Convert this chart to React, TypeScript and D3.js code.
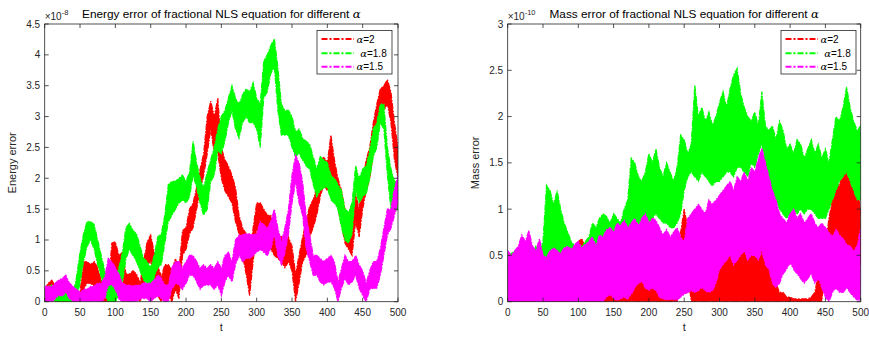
import React from "react";
import * as d3 from "d3";

// time samples (t = 0..500, every 5)
const tSamples: number[] = d3.range(0, 505, 5);

// ---------- Energy error (x1e-8): lower / upper envelopes ----------
const energyA2Lo = [0.0,0.05,0.05,0.0,0.0,0.0,0.0,0.0,0.0,0.0, 0.0,0.2,0.3,0.3,0.25,0.15,0.0,0.0,0.0,0.5, 0.55,0.35,0.45,0.05,0.1,0.1,0.1,0.0,0.2,0.6, 0.65,0.35,0.1,0.0,0.2,0.1,0.0,0.2,0.05,0.75, 0.85,1.1,1.2,1.5,1.8,2.05,2.4,2.8,2.4,2.4, 2.0,1.8,1.7,1.6,1.3,1.1,0.75,0.45,0.1,0.65, 1.15,1.2,1.0,0.95,0.85,0.75,0.7,0.65,0.55,0.65, 0.5,0.0,0.3,0.65,0.75,1.05,1.2,1.4,1.7,1.9, 1.8,2.0,1.75,1.5,1.25,0.95,0.85,0.75,1.3,1.05, 1.5,1.8,2.0,2.4,2.75,3.0,3.1,3.2,2.9,2.3, 2.0];
const energyA2Hi = [0.2,0.3,0.35,0.25,0.2,0.15,0.1,0.1,0.1,0.1, 0.15,0.65,0.65,0.6,0.65,0.55,0.35,0.3,0.2,0.95, 0.97,0.75,0.8,0.45,0.45,0.5,0.45,0.3,0.65,0.97, 1.08,0.8,0.6,0.4,0.6,0.6,0.5,0.7,0.5,1.15, 1.2,1.5,1.6,1.85,2.15,2.4,3.0,3.25,3.0,3.3, 2.5,2.3,2.2,2.05,1.85,1.4,1.2,1.1,0.65,1.2, 1.6,1.6,1.5,1.4,1.4,1.2,1.1,1.05,0.95,1.05, 0.9,0.45,0.75,1.05,1.3,1.55,1.65,1.85,2.25,2.35, 2.25,2.7,2.3,2.0,1.8,1.5,1.3,1.1,1.75,1.5, 1.95,2.3,2.5,2.9,3.2,3.45,3.5,3.6,3.4,2.9, 2.5];
const energyA18Lo = [0.0,0.0,0.05,0.0,0.0,0.0,0.0,0.0,0.0,0.05, 0.3,0.65,0.9,1.0,0.85,0.6,0.4,0.1,0.0,0.0, 0.0,0.1,0.3,0.7,0.85,0.75,0.65,0.5,0.35,0.3, 0.2,0.4,0.55,0.6,0.95,1.3,1.4,1.5,1.6,1.65, 1.6,1.7,2.05,1.85,1.6,1.4,1.5,1.95,2.05,2.45, 2.4,2.6,2.9,3.1,2.8,2.65,2.9,3.0,2.9,2.9, 2.8,2.5,3.3,3.4,3.7,3.8,3.1,2.7,2.7,2.7, 2.5,2.35,2.4,2.3,2.2,2.15,1.9,1.7,1.8,1.85, 1.85,1.65,1.6,1.5,1.2,1.0,0.95,1.1,1.8,1.6, 1.7,1.75,2.0,2.35,2.5,2.9,2.8,2.05,1.5,1.45, 1.5];
const energyA18Hi = [0.2,0.25,0.27,0.2,0.2,0.15,0.2,0.15,0.1,0.4, 0.8,1.1,1.3,1.3,1.25,1.0,0.75,0.5,0.3,0.35, 0.38,0.55,0.8,1.2,1.27,1.15,1.1,0.9,0.7,0.65, 0.55,0.75,1.05,1.1,1.4,1.9,1.95,1.95,2.0,2.05, 1.95,2.1,2.6,2.25,2.0,1.85,2.1,2.3,2.5,2.8, 3.0,3.1,3.3,3.5,3.3,3.2,3.35,3.45,3.4,3.55, 3.3,3.2,3.9,4.0,4.15,4.26,3.8,3.2,3.1,3.1, 3.0,2.75,2.8,2.65,2.6,2.55,2.35,2.15,2.35,2.3, 2.25,2.05,2.0,1.9,1.8,1.5,1.45,1.6,2.2,2.0, 2.15,2.2,2.45,2.8,2.9,3.2,3.2,2.5,2.15,1.95, 1.95];
const energyA15Lo = [0.0,0.0,0.0,0.05,0.1,0.1,0.15,0.05,0.0,0.0, 0.0,0.0,0.0,0.0,0.0,0.0,0.0,0.05,0.27,0.27, 0.2,0.05,0.0,0.0,0.0,0.0,0.0,0.05,0.05,0.05, 0.0,0.05,0.1,0.05,0.0,0.0,0.2,0.3,0.27,0.2, 0.3,0.43,0.43,0.32,0.2,0.27,0.27,0.27,0.2,0.27, 0.1,0.32,0.43,0.32,0.6,0.75,0.65,0.7,0.7,0.75, 0.8,0.85,0.8,0.75,0.86,1.08,0.75,0.6,0.8,1.1, 1.6,1.94,1.6,1.4,0.86,0.65,0.43,0.43,0.32,0.27, 0.32,0.32,0.22,0.0,0.22,0.38,0.27,0.32,0.43,0.22, 0.1,0.0,0.2,0.22,0.22,0.43,0.75,1.08,1.19,1.4, 1.6];
const energyA15Hi = [0.25,0.25,0.25,0.3,0.35,0.38,0.43,0.3,0.25,0.2, 0.15,0.2,0.2,0.25,0.25,0.3,0.3,0.4,0.7,0.65, 0.55,0.45,0.3,0.27,0.27,0.25,0.27,0.27,0.3,0.3, 0.3,0.35,0.43,0.38,0.27,0.27,0.55,0.65,0.65,0.54, 0.65,0.75,0.75,0.65,0.54,0.6,0.54,0.6,0.54,0.65, 0.54,0.75,0.8,0.65,1.0,1.08,1.08,1.1,1.1,1.08, 1.1,1.3,1.25,1.19,1.3,1.5,1.19,0.97,1.2,1.5, 2.05,2.37,2.25,1.94,1.4,1.08,0.75,0.75,0.7,0.65, 0.7,0.75,0.65,0.32,0.54,0.75,0.65,0.65,0.75,0.6, 0.5,0.3,0.5,0.65,0.65,0.86,1.19,1.5,1.5,1.83, 2.05];

// ---------- Mass error (x1e-10): lower / upper envelopes ----------
const massA2Lo = [0,0,0,0,0,0,0,0,0,0, 0,0,0,0,0,0,0,0,0,0, 0,0,0,0,0,0,0,0,0,0, 0,0,0,0,0,0,0,0,0,0, 0,0,0,0,0,0,0,0,0,0.3, 0.3,0.3,0,0,0,0,0,0,0,0, 0,0,0,0,0,0,0,0,0,0, 0,0,0,0,0,0,0,0,0,0, 0,0,0,0,0,0,0,0,0,0, 0.4,0.4,0.4,0.4,0.4,0.4,0.4,0.4,0.4,0.4, 0.4];
const massA2Hi = [0.4,0.35,0.3,0.35,0.4,0.35,0.45,0.5,0.4,0.35, 0.3,0.35,0.4,0.35,0.3,0.35,0.4,0.45,0.5,0.55, 0.65,0.68,0.6,0.55,0.4,0.3,0.25,0.2,0.22,0.2, 0.12,0.1,0.1,0.3,0.2,0.3,0.38,0.45,0.42,0.35, 0.3,0.32,0.3,0.2,0.15,0.1,0.1,0.12,0.1,0.75, 1.0,0.8,0.2,0.22,0.25,0.2,0.2,0.18,0.25,0.5, 0.6,0.68,0.55,0.6,0.75,0.65,0.85,0.7,0.6,0.65, 0.75,0.8,0.6,0.7,0.55,0.3,0.2,0.1,0.1,0.05, 0.05,0.03,0.03,0.03,0.03,0.03,0.05,0.1,0.3,0.45, 0.6,0.9,1.1,1.3,1.25,1.4,1.5,1.62,1.3,1.2, 1.0];
const massA18Lo = [0.1,0.1,0.1,0.1,0.1,0.1,0.1,0.1,0.1,0.1, 0.2,0.4,0.45,0.45,0.45,0.4,0.35,0.3,0.3,0.3, 0.3,0.3,0.3,0.35,0.4,0.45,0.5,0.5,0.55,0.55, 0.55,0.55,0.55,0.6,0.65,0.75,0.8,0.8,0.85,0.85, 0.85,0.9,0.95,0.9,0.85,0.85,0.8,0.8,0.85,0.95, 1.2,1.35,1.4,1.35,1.3,1.4,1.35,1.3,1.25,1.3, 1.3,1.35,1.4,1.4,1.35,1.45,1.45,1.4,1.35,1.5, 1.45,1.6,1.7,1.5,1.3,1.2,1.1,1.0,0.95,0.9, 0.95,1.0,0.95,1.0,0.95,1.0,1.0,0.95,0.9,0.9, 0.9,1.0,1.1,1.2,1.3,1.35,1.4,1.3,1.2,1.1, 1.1];
const massA18Hi = [0.5,0.52,0.55,0.5,0.45,0.5,0.55,0.5,0.6,0.55, 0.65,1.26,1.2,1.05,1.2,1.0,0.85,0.75,0.65,0.6, 0.55,0.6,0.65,0.7,0.85,0.8,0.9,0.95,0.92,0.85, 0.95,0.9,0.85,1.0,1.1,1.55,1.5,1.35,1.3,1.4, 1.6,1.5,1.65,1.45,1.35,1.5,1.4,1.3,1.45,1.8, 1.75,1.6,1.7,2.34,2.0,2.1,1.95,2.05,1.9,2.0, 2.15,2.27,2.1,2.3,2.45,2.52,2.25,2.1,2.0,1.95, 2.05,1.9,2.27,1.9,1.85,1.9,1.75,1.95,1.85,1.65, 1.7,1.6,1.75,1.7,1.55,1.65,1.75,1.6,1.7,1.55, 1.65,1.5,1.75,2.0,1.95,2.1,2.32,2.1,1.95,1.85, 1.9];
const massA15Lo = [0,0,0,0,0,0,0,0,0,0, 0,0,0,0,0,0,0,0,0,0, 0,0,0,0,0,0,0,0,0.05,0.08, 0.03,0.02,0.03,0.05,0.03,0.08,0.15,0.2,0.22,0.15, 0.12,0.15,0.12,0.05,0.03,0.02,0.03,0.02,0.02,0.05, 0.08,0.1,0.12,0.1,0.12,0.15,0.12,0.1,0.12,0.2, 0.35,0.4,0.45,0.5,0.4,0.45,0.5,0.55,0.45,0.5, 0.5,0.45,0.55,0.4,0.35,0.2,0.15,0.2,0.3,0.35, 0.42,0.35,0.3,0.25,0.2,0.25,0.3,0.2,0.25,0.15, 0.05,0.0,0.1,0.15,0.1,0.1,0.15,0.1,0.05,0.02, 0.02];
const massA15Hi = [0.55,0.5,0.55,0.6,0.72,0.65,0.77,0.6,0.55,0.68, 0.5,0.48,0.55,0.58,0.55,0.52,0.58,0.6,0.56,0.62, 0.65,0.58,0.62,0.65,0.7,0.6,0.72,0.7,0.78,0.8, 0.75,0.85,0.82,0.88,0.8,0.85,0.9,0.82,0.9,0.95, 0.85,0.9,0.88,0.8,0.72,0.78,0.7,0.75,0.8,0.7, 0.65,0.9,0.95,1.0,1.05,1.0,0.95,1.1,1.05,1.1, 1.15,1.2,1.25,1.3,1.2,1.35,1.3,1.4,1.3,1.45, 1.4,1.55,1.66,1.5,1.35,1.2,1.1,0.95,0.9,0.85, 0.95,1.0,0.9,0.95,0.85,0.9,0.95,0.85,0.8,0.85, 0.8,0.75,0.7,0.78,0.72,0.68,0.62,0.6,0.55,0.6, 0.8];

const xTicks = [0, 50, 100, 150, 200, 250, 300, 350, 400, 450, 500];
const energyYTicks = [0, 0.5, 1, 1.5, 2, 2.5, 3, 3.5, 4, 4.5];
const massYTicks = [0, 0.5, 1, 1.5, 2, 2.5, 3];
const legendLabels = ["2", "1.8", "1.5"];
const seriesColors = ["#ff0000", "#00ff00", "#ff00ff"];

const FONT = "'Liberation Sans', Arial, Helvetica, sans-serif";
const AXIS = "#262626";

type Band = { lo: number[]; hi: number[]; color: string };

function Panel(props: {
  x0: number; x1: number; y0: number; y1: number; yMax: number; yTicks: number[];
  bands: Band[]; title: string; exponent: string; ylabel: string; id: string;
  legendX: number; legendW: number; label18Shift: number;
}) {
  const { x0, x1, y0, y1, yMax, yTicks, bands, title, exponent, ylabel, id, legendX, legendW, label18Shift } = props;
  const x = d3.scaleLinear().domain([0, 500]).range([x0, x1]);
  const y = d3.scaleLinear().domain([0, yMax]).range([y1, y0]);
  const area = (b: Band) =>
    d3.area<number>()
      .x((_, i) => x(tSamples[i]))
      .y0((_, i) => y(b.lo[i]))
      .y1((_, i) => y(b.hi[i]))
      .curve(d3.curveLinear)(tSamples) || "";
  const cx = (x0 + x1) / 2;
  const cy = (y0 + y1) / 2;
  const tl = 4;
  const legendY = 30.5;
  const rowY = [39, 53.3, 66.7];
  return (
    <g>
      <defs>
        <clipPath id={id}>
          <rect x={x0} y={y0} width={x1 - x0} height={y1 - y0} />
        </clipPath>
      </defs>
      <g clipPath={`url(#${id})`}>
        {bands.map((b, k) => (
          <path key={k} d={area(b)} fill={b.color} stroke={b.color} strokeWidth={1.2} strokeDasharray="6,1.5,1.5,1.5" />
        ))}
      </g>
      {/* box */}
      <rect x={x0} y={y0} width={x1 - x0} height={y1 - y0} fill="none" stroke={AXIS} strokeWidth={0.8} />
      {xTicks.map((t) => (
        <g key={"x" + t}>
          <line x1={x(t)} x2={x(t)} y1={y1} y2={y1 - tl} stroke={AXIS} strokeWidth={0.8} />
          <line x1={x(t)} x2={x(t)} y1={y0} y2={y0 + tl} stroke={AXIS} strokeWidth={0.8} />
          <text x={x(t)} y={y1 + 14.5} fontSize={10} fontFamily={FONT} fill={AXIS} textAnchor="middle">{t}</text>
        </g>
      ))}
      {yTicks.map((v) => (
        <g key={"y" + v}>
          <line x1={x0} x2={x0 + tl} y1={y(v)} y2={y(v)} stroke={AXIS} strokeWidth={0.8} />
          <line x1={x1} x2={x1 - tl} y1={y(v)} y2={y(v)} stroke={AXIS} strokeWidth={0.8} />
          <text x={x0 - 4.5} y={y(v)} dy="0.35em" fontSize={10} fontFamily={FONT} fill={AXIS} textAnchor="end">{v}</text>
        </g>
      ))}
      {/* exponent */}
      <text x={x0} y={19.5} fontSize={10} fontFamily={FONT} fill={AXIS}>
        ×10<tspan dy={-5} fontSize={7.5}>{exponent}</tspan>
      </text>
      {/* title */}
      <text x={cx} y={17.5} fontSize={11.8} fontFamily={FONT} fill="#000" textAnchor="middle">
        {title}<tspan fontFamily="'DejaVu Serif', 'Liberation Serif', serif" fontStyle="italic">α</tspan>
      </text>
      <text x={cx} y={331} fontSize={11} fontFamily={FONT} fill={AXIS} textAnchor="middle">t</text>
      <text transform={`translate(${x0 - 28.5},${cy}) rotate(-90)`} fontSize={11} fontFamily={FONT} fill={AXIS} textAnchor="middle">{ylabel}</text>
      {/* legend */}
      <rect x={legendX} y={legendY} width={legendW} height={43.5} fill="#fff" stroke={AXIS} strokeWidth={0.8} />
      {legendLabels.map((lab, i) => (
        <g key={"l" + i}>
          <line x1={legendX + 4.5} x2={legendX + 37} y1={rowY[i]} y2={rowY[i]} stroke={seriesColors[i]} strokeWidth={2} strokeDasharray="6,2,2,2" />
          <text x={legendX + 39.5 + (i === 1 ? label18Shift : 0)} y={rowY[i]} dy="0.35em" fontSize={10} fontFamily={FONT} fill="#000">
            <tspan fontFamily="'DejaVu Serif', 'Liberation Serif', serif" fontStyle="italic">α</tspan>={lab}
          </text>
        </g>
      ))}
    </g>
  );
}

export default function App() {
  const energyBands: Band[] = [
    { lo: energyA2Lo, hi: energyA2Hi, color: seriesColors[0] },
    { lo: energyA18Lo, hi: energyA18Hi, color: seriesColors[1] },
    { lo: energyA15Lo, hi: energyA15Hi, color: seriesColors[2] },
  ];
  const massBands: Band[] = [
    { lo: massA2Lo, hi: massA2Hi, color: seriesColors[0] },
    { lo: massA18Lo, hi: massA18Hi, color: seriesColors[1] },
    { lo: massA15Lo, hi: massA15Hi, color: seriesColors[2] },
  ];
  return (
    <svg width={869} height={338} style={{ position: "absolute", left: 0, top: 0, background: "#fff" }}>
      <rect x={0} y={0} width={869} height={338} fill="#fff" />
      <Panel x0={44.7} x1={398} y0={24} y1={301.7} yMax={4.5} yTicks={energyYTicks} bands={energyBands}
        title="Energy error of fractional NLS equation for different " exponent="-8" ylabel="Energy error" id="clipE"
        legendX={317} legendW={75} label18Shift={3.7} />
      <Panel x0={507.7} x1={860.7} y0={24} y1={301.7} yMax={3} yTicks={massYTicks} bands={massBands}
        title="Mass error of fractional NLS equation for different " exponent="-10" ylabel="Mass error" id="clipM"
        legendX={781} legendW={75} label18Shift={3.7} />
    </svg>
  );
}
